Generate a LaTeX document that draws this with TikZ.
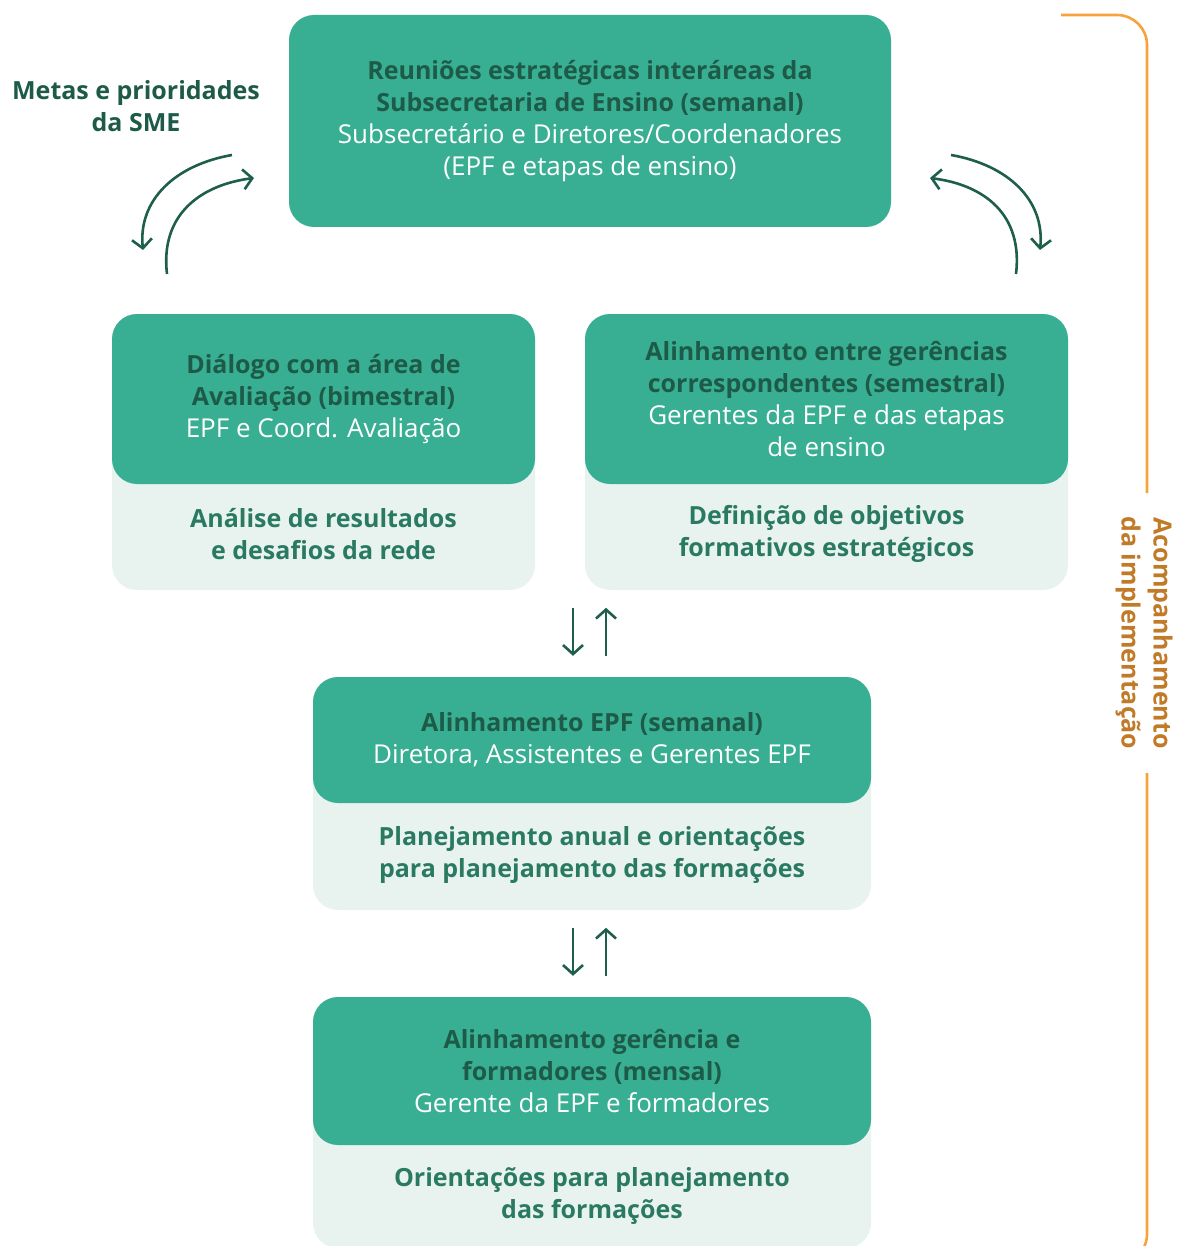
\documentclass[tikz,border=0pt]{standalone}
\usepackage{fontspec}
\setmainfont{Open Sans}
\usepackage{xcolor}
\usetikzlibrary{arrows.meta, positioning}

\definecolor{tealmain}{HTML}{38AF92}
\definecolor{tealpale}{HTML}{E8F3EF}
\definecolor{headgreen}{HTML}{1D5B48}
\definecolor{lowgreen}{HTML}{2A7A62}
\definecolor{arrowgreen}{HTML}{1E5E4C}
\definecolor{bracketorange}{HTML}{F7A23B}
\definecolor{labelorange}{HTML}{C07A28}

\newcommand{\hdline}[1]{\textcolor{headgreen}{\fontsize{25}{32}\selectfont\bfseries #1}}

\begin{document}
\begin{tikzpicture}[
		x=1pt, y=-1pt,
		% Define styles for the boxes and texts
		meet_box/.style={
			rectangle,
			fill=tealmain,
			text=white,
			inner sep=0pt,
			align=center,
			rounded corners=25pt,
			font=\fontsize{26}{32}\selectfont
		},
		pale_box/.style={
			rectangle,
			fill=tealpale,
			inner sep=0pt,
			rounded corners=25pt
		},
		result_text/.style={
			text=lowgreen,
			align=center,
			font=\fontsize{25}{32}\selectfont\bfseries
		},
		arrow_style/.style={
			-{Straight Barb[length=9pt, width=20pt]},
			line width=2.6pt,
			draw=arrowgreen
		},
		]
		\useasboundingbox (0,0) rectangle (1185,1246);
		
		% ----- Nodes -----
		% Top meeting
		\node[meet_box, minimum width=602pt, minimum height=212pt] (reunioes) at (590,121) {\hdline{Reuniões estratégicas interáreas da}\\ \hdline{Subsecretaria de Ensino (semanal)}\\ Subsecretário e Diretores/Coordenadores\\ (EPF e etapas de ensino)};
		\node[align=center, font=\fontsize{25}{32}\selectfont\bfseries, text=headgreen] (metas) at (136,106) {Metas e prioridades\\da SME};
		
		% Left: evaluation
		\node[pale_box, minimum width=423pt, minimum height=276pt] (avalia_bg) at (323.5,452) {};
		\node[meet_box, minimum width=423pt, minimum height=170pt] (avalia) at (323.5,399) {\hdline{Diálogo com a área de}\\ \hdline{Avaliação (bimestral)}\\ EPF e Coord. Avaliação};
		\node[result_text] (avalia_res) at (323.5,534) {Análise de resultados\\e desafios da rede};
		
		% Right: management alignment
		\node[pale_box, minimum width=483pt, minimum height=276pt] (gerencias_bg) at (826.5,452) {};
		\node[meet_box, minimum width=483pt, minimum height=170pt] (gerencias) at (826.5,399) {\hdline{Alinhamento entre gerências}\\ \hdline{correspondentes (semestral)}\\ Gerentes da EPF e das etapas\\ de ensino};
		\node[result_text] (gerencias_res) at (826.5,534) {Definição de objetivos\\formativos estratégicos};
		
		% Middle: EPF alignment
		\node[pale_box, minimum width=558pt, minimum height=233pt] (epf_bg) at (592,793.5) {};
		\node[meet_box, minimum width=558pt, minimum height=126pt] (epf) at (592,740) {\hdline{Alinhamento EPF (semanal)}\\ Diretora, Assistentes e Gerentes EPF};
		\node[result_text] (epf_res) at (592,855) {Planejamento anual e orientações\\para planejamento das formações};
		
		% Bottom: trainers
		\node[pale_box, minimum width=558pt, minimum height=251pt] (formadores_bg) at (592,1122.5) {};
		\node[meet_box, minimum width=558pt, minimum height=148pt] (formadores) at (592,1071) {\hdline{Alinhamento gerência e}\\ \hdline{formadores (mensal)}\\ Gerente da EPF e formadores};
		\node[result_text] (formadores_res) at (592,1196) {Orientações para planejamento\\das formações};
		
		% Side label
		\node[rotate=-90, align=center, text=labelorange, font=\fontsize{25}{32}\selectfont\bfseries] (acomp) at (1144,633) {Acompanhamento\\da implementação};
		
		% ----- Arrows -----
		% Curved exchanges with the top meeting
		\coordinate (left_a1) at (232,155);
		\coordinate (left_a2) at (143,250);
		\coordinate (left_b1) at (167,274);
		\coordinate (left_b2) at (254,178);
		\coordinate (right_a1) at (951,155);
		\coordinate (right_a2) at (1040,250);
		\coordinate (right_b1) at (1016,274);
		\coordinate (right_b2) at (930,178);
		\draw[arrow_style] (left_a1) .. controls (175,165) and (138,200) .. (left_a2);
		\draw[arrow_style] (left_b1) .. controls (160,215) and (200,185) .. (left_b2);
		\draw[arrow_style] (right_a1) .. controls (1008,165) and (1045,200) .. (right_a2);
		\draw[arrow_style] (right_b1) .. controls (1023,215) and (985,185) .. (right_b2);
		
		% Up and down between the levels
		\draw[arrow_style] ([xshift=-19pt, yshift=69pt]epf.north) -- ([xshift=-19pt, yshift=21pt]epf.north);
		\draw[arrow_style] ([xshift=14pt, yshift=21pt]epf.north) -- ([xshift=14pt, yshift=69pt]epf.north);
		\draw[arrow_style] ([xshift=-19pt, yshift=69pt]formadores.north) -- ([xshift=-19pt, yshift=21pt]formadores.north);
		\draw[arrow_style] ([xshift=14pt, yshift=21pt]formadores.north) -- ([xshift=14pt, yshift=69pt]formadores.north);
		
		% Bracket of the side label
		\draw[bracketorange, line width=2.6pt, rounded corners=30pt] (1061,15) -- (1147,15) -- (1147,493);
		\draw[bracketorange, line width=2.6pt, rounded corners=30pt] (1147,773) -- (1147,1264) -- (1100,1264);
		
	\end{tikzpicture}
\end{document}
